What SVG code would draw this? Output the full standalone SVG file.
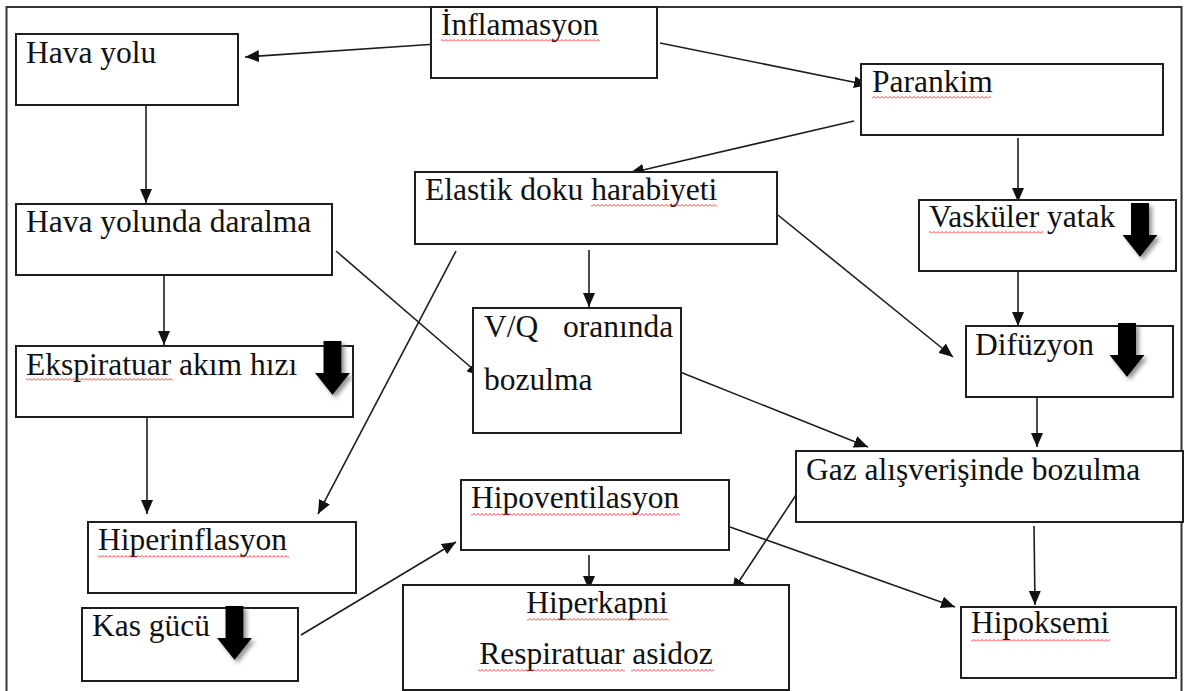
<svg xmlns="http://www.w3.org/2000/svg" width="1188" height="691" viewBox="0 0 1188 691">
<style>
.box{fill:#fff;stroke:#1e1e1e;stroke-width:2}
.t{font-family:"Liberation Serif","Times New Roman",serif;font-size:31.5px;fill:#111}
.c{stroke:#1e1e1e;stroke-width:1.6;fill:none;marker-end:url(#ah)}
.wv{fill:url(#wave)}
</style>
<defs>
<marker id="ah" viewBox="0 0 14 12" refX="14" refY="6" markerWidth="14" markerHeight="12" orient="auto" markerUnits="userSpaceOnUse"><path d="M0 0 L14 6 L0 12 Z" fill="#111"/></marker>
<pattern id="wave" width="4" height="3" patternUnits="userSpaceOnUse"><path d="M0 2.5 L2 0.5 L4 2.5" stroke="#f22" stroke-width="0.9" fill="none"/></pattern>
<filter id="sh" x="-30%" y="-30%" width="170%" height="170%"><feDropShadow dx="3" dy="3" stdDeviation="2" flood-color="#777" flood-opacity="0.8"/></filter>
<path id="down" d="M-9 0 H9 V32 H17.5 L0 54 L-17.5 32 H-9 Z" fill="#000"/>
</defs>
<rect x="0" y="0" width="1188" height="691" fill="#fff"/>
<rect x="6.5" y="7" width="1175" height="700" fill="none" stroke="#333" stroke-width="2"/>

<g id="connectors">
<line class="c" x1="437" y1="44" x2="245" y2="57"/>
<line class="c" x1="660" y1="43" x2="868" y2="85"/>
<line class="c" x1="854" y1="121" x2="630" y2="173"/>
<line class="c" x1="146" y1="105" x2="146" y2="203"/>
<line class="c" x1="1018" y1="138" x2="1018" y2="202"/>
<line class="c" x1="164" y1="272" x2="164" y2="345"/>
<line class="c" x1="589" y1="250" x2="589" y2="307"/>
<line class="c" x1="336" y1="251" x2="481" y2="376"/>
<line class="c" x1="456" y1="251" x2="318" y2="514"/>
<line class="c" x1="768" y1="207" x2="953" y2="357"/>
<line class="c" x1="1018" y1="272" x2="1018" y2="326"/>
<line class="c" x1="147" y1="417" x2="147" y2="514"/>
<line class="c" x1="1037" y1="393" x2="1037" y2="447"/>
<line class="c" x1="680" y1="372" x2="868" y2="447"/>
<line class="c" x1="796" y1="495" x2="732" y2="592"/>
<line class="c" x1="1034" y1="526" x2="1035" y2="605"/>
<line class="c" x1="730" y1="527" x2="955" y2="607"/>
<line class="c" x1="589" y1="555" x2="589" y2="590"/>
<line class="c" x1="301" y1="635" x2="456" y2="542"/>
</g>

<g id="inflamasyon">
<rect class="box" x="431" y="7" width="226" height="71"/>
<text class="t" x="441" y="35">İnflamasyon</text>
<rect class="wv" x="441" y="39" width="159" height="3"/>
</g>
<g id="hava-yolu">
<rect class="box" x="16" y="34" width="222" height="71"/>
<text class="t" x="26" y="63">Hava yolu</text>
</g>
<g id="parankim">
<rect class="box" x="861" y="64" width="302" height="71"/>
<text class="t" x="872" y="92">Parankim</text>
<rect class="wv" x="872" y="96" width="119" height="3"/>
</g>
<g id="elastik">
<rect class="box" x="415" y="172" width="362" height="72"/>
<text class="t" x="425" y="200">Elastik doku harabiyeti</text>
<rect class="wv" x="591" y="204" width="126" height="3"/>
</g>
<g id="vaskuler">
<rect class="box" x="919" y="200" width="257" height="71"/>
<text class="t" x="929" y="227">Vasküler yatak</text>
<rect class="wv" x="929" y="231" width="114" height="3"/>
<use href="#down" x="1140" y="203" filter="url(#sh)"/>
</g>
<g id="hava-yolunda-daralma">
<rect class="box" x="16" y="204" width="316" height="71"/>
<text class="t" x="26" y="232">Hava yolunda daralma</text>
</g>
<g id="ekspiratuar">
<rect class="box" x="16" y="346" width="337" height="71"/>
<text class="t" x="26" y="375">Ekspiratuar akım hızı</text>
<rect class="wv" x="26" y="378" width="147" height="3"/>
<use href="#down" x="332.5" y="341" filter="url(#sh)"/>
</g>
<g id="vq">
<rect class="box" x="473" y="308" width="208" height="125"/>
<text class="t" y="337"><tspan x="484">V/Q</tspan><tspan x="563">oranında</tspan></text>
<text class="t" x="484" y="390">bozulma</text>
</g>
<g id="difuzyon">
<rect class="box" x="966" y="326" width="207" height="71"/>
<text class="t" x="975" y="355">Difüzyon</text>
<use href="#down" x="1127" y="323" filter="url(#sh)"/>
</g>
<g id="gaz">
<rect class="box" x="796" y="451" width="387" height="71"/>
<text class="t" x="806" y="480">Gaz alışverişinde bozulma</text>
</g>
<g id="hiperinflasyon">
<rect class="box" x="88" y="522" width="268" height="71"/>
<text class="t" x="98" y="550">Hiperinflasyon</text>
<rect class="wv" x="98" y="555" width="191" height="3"/>
</g>
<g id="hipoventilasyon">
<rect class="box" x="461" y="480" width="268" height="70"/>
<text class="t" x="471" y="508">Hipoventilasyon</text>
<rect class="wv" x="471" y="513" width="209" height="3"/>
</g>
<g id="kas-gucu">
<rect class="box" x="82" y="608" width="216" height="73"/>
<text class="t" x="92" y="636">Kas gücü</text>
<use href="#down" x="234.5" y="606" filter="url(#sh)"/>
</g>
<g id="hiperkapni">
<rect class="box" x="403" y="585" width="386" height="105"/>
<text class="t" x="597" y="613" text-anchor="middle">Hiperkapni</text>
<rect class="wv" x="527" y="618" width="142" height="3"/>
<text class="t" x="596" y="664" text-anchor="middle">Respiratuar asidoz</text>
<rect class="wv" x="478" y="669" width="147" height="3"/>
<rect class="wv" x="631" y="669" width="83" height="3"/>
</g>
<g id="hipoksemi">
<rect class="box" x="961" y="607" width="215" height="71"/>
<text class="t" x="971" y="633">Hipoksemi</text>
<rect class="wv" x="971" y="639" width="139" height="3"/>
</g>
</svg>
